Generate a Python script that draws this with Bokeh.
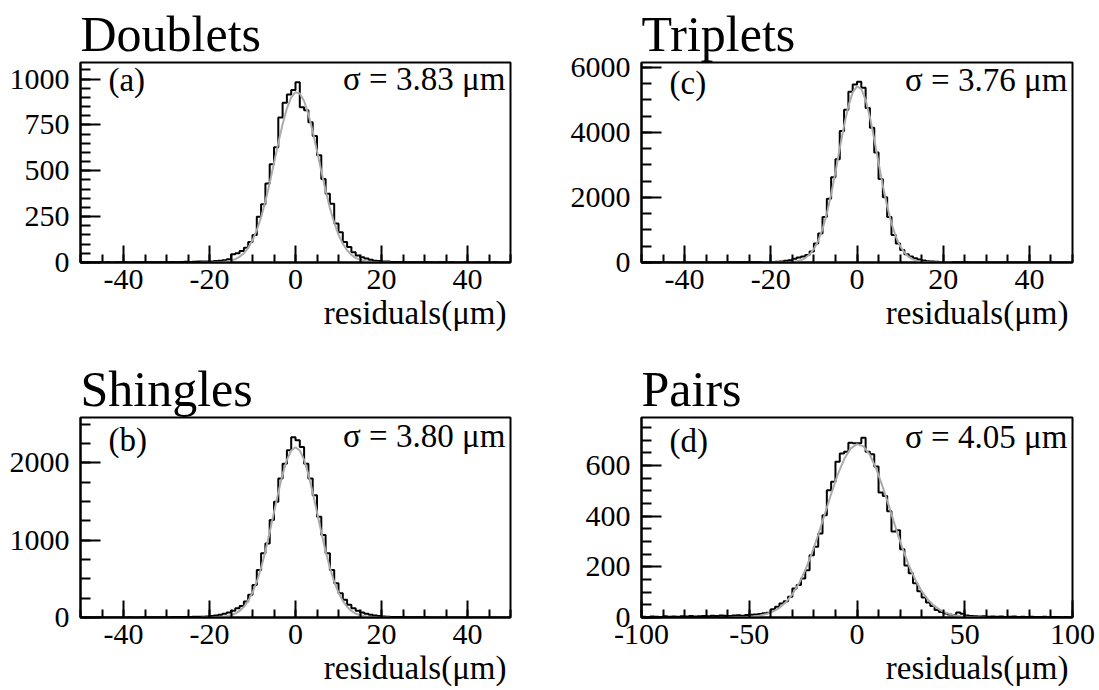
import numpy as np
from bokeh.plotting import figure
from bokeh.layouts import column, row
from bokeh.models import FixedTicker, Label, Title, Range1d
from bokeh.embed import file_html
from bokeh.resources import INLINE

FONT = "Liberation Serif"

# ---------------- data ----------------
titles = ["Doublets", "Triplets", "Shingles", "Pairs"]
tags = ["(a)", "(c)", "(b)", "(d)"]
sigma_texts = ["σ = 3.83 μm", "σ = 3.76 μm", "σ = 3.80 μm", "σ = 4.05 μm"]
x_label = "residuals(μm)"

range_abc = (-50, 50)
range_d = (-100, 100)
n_bins = 100

doublets_counts = [
    0, 1, 0, 0, 1, 0, 1, 0, 1, 1,
    1, 0, 1, 2, 1, 1, 2, 1, 2, 2,
    2, 3, 2, 3, 4, 3, 4, 5, 5, 6,
    6, 8, 10, 12, 18, 45, 50, 62, 80, 112,
    150, 250, 318, 430, 535, 628, 790, 870, 915, 940,
    982, 846, 830, 765, 690, 585, 455, 375, 320, 212,
    165, 112, 84, 56, 38, 28, 22, 15, 10, 8,
    6, 5, 3, 3, 2, 2, 2, 1, 2, 1,
    1, 1, 0, 1, 1, 0, 1, 0, 0, 1,
    0, 0, 1, 0, 0, 0, 1, 0, 0, 0,
]
triplets_counts = [
    0, 0, 1, 0, 0, 1, 0, 0, 1, 0,
    1, 1, 0, 1, 2, 1, 2, 2, 3, 3,
    4, 4, 5, 6, 7, 8, 9, 10, 11, 13,
    15, 20, 30, 50, 70, 112, 152, 183, 234, 335,
    588, 893, 1400, 1960, 2620, 3177, 4040, 4700, 5250, 5470,
    5556, 5370, 4752, 4143, 3381, 2568, 2010, 1400, 843, 588,
    386, 254, 183, 132, 91, 60, 40, 30, 22, 16,
    12, 9, 7, 6, 5, 4, 3, 3, 2, 2,
    2, 1, 1, 1, 1, 1, 0, 1, 0, 0,
    0, 1, 0, 0, 0, 0, 1, 0, 0, 0,
]
shingles_counts = [
    0, 1, 0, 1, 0, 1, 1, 0, 1, 1,
    1, 2, 1, 1, 2, 2, 3, 2, 3, 4,
    4, 5, 5, 6, 7, 8, 9, 10, 11, 12,
    18, 26, 35, 48, 64, 86, 120, 150, 206, 293,
    421, 615, 829, 957, 1259, 1495, 1795, 1988, 2161, 2330,
    2290, 2204, 1988, 1795, 1581, 1302, 1066, 829, 615, 442,
    313, 228, 164, 120, 86, 64, 48, 35, 25, 18,
    12, 9, 7, 6, 5, 4, 3, 3, 2, 2,
    2, 1, 1, 1, 1, 1, 0, 1, 0, 0,
    1, 0, 0, 0, 0, 1, 0, 0, 0, 0,
]
pairs_counts = [
    3, 2, 4, 3, 2, 5, 3, 4, 3, 5,
    4, 6, 4, 5, 6, 5, 7, 6, 8, 7,
    6, 8, 9, 7, 10, 11, 12, 14, 17, 19,
    33, 42, 55, 64, 82, 115, 128, 154, 187, 246,
    279, 332, 404, 503, 536, 615, 648, 655, 690, 688,
    688, 710, 655, 645, 596, 494, 480, 420, 340, 345,
    270, 205, 175, 135, 104, 79, 59, 45, 30, 22,
    16, 12, 10, 20, 15, 8, 6, 5, 4, 5,
    3, 4, 3, 4, 2, 3, 4, 2, 3, 2,
    3, 2, 2, 3, 1, 2, 2, 1, 2, 1,
]

# gaussian fit curves, read at sample positions
fit_x_abc = list(range(-22, 23))
doublets_fit = [0.1, 0.2, 0.3, 0.7, 1.5, 2.9, 5.6, 10.3, 18.2, 31, 50.7, 79.8, 121, 176, 247,
                334, 433, 542, 652, 754, 840, 900, 928, 921, 880, 808, 715, 608, 498, 392,
                297, 217, 152, 103, 66.9, 41.8, 25.2, 14.6, 8.1, 4.4, 2.2, 1.1, 0.5, 0.25, 0.1]
triplets_fit = [0.03, 0.08, 0.2, 0.6, 1.5, 3.6, 8.3, 18, 37, 73, 137, 245, 415, 671, 1031,
                1507, 2099, 2780, 3506, 4209, 4810, 5231, 5415, 5335, 5003, 4466, 3795, 3069,
                2362, 1731, 1207, 801, 506, 304, 174, 95, 49, 24, 11.4, 5.1, 2.2, 0.9, 0.3,
                0.1, 0.03]
shingles_fit = [0.2, 0.5, 1.0, 2.1, 4.3, 8.5, 16, 29, 51, 85, 138, 215, 322, 463, 643, 857,
                1101, 1360, 1617, 1850, 2037, 2158, 2200, 2158, 2037, 1850, 1617, 1360, 1101,
                857, 643, 463, 322, 215, 138, 85, 51, 29, 16, 8.5, 4.3, 2.1, 1.0, 0.5, 0.2]
fit_x_d = list(range(-60, 61, 3))
pairs_fit = [0.25, 0.5, 1.1, 2.2, 4.2, 7.8, 13.7, 23.4, 38.3, 60.3, 91.5, 133, 187, 252, 327,
             407, 488, 563.5, 625, 667, 685, 676, 642, 586, 514, 435, 353, 276, 207, 150, 104,
             69.6, 44.8, 27.7, 16.5, 9.4, 5.2, 2.7, 1.4, 0.7, 0.3]

y_max = [1090, 6150, 2585, 790]
y_major = [[0, 250, 500, 750, 1000], [0, 2000, 4000, 6000], [0, 1000, 2000], [0, 200, 400, 600]]
y_minor_step = [50, 500, 250, 50]
x_major_abc = [-40, -20, 0, 20, 40]
x_major_d = [-100, -50, 0, 50, 100]
x_minor_step_abc = 5
x_minor_step_d = 10


def make_panel(i, counts, fit_x, fit_y, xr, x_major, x_minor_step, frame_w,
               border_left, border_right, border_top, border_bottom,
               tag_frac_y, sig_frac_y):
    lo, hi = xr
    ymax = y_max[i]
    p = figure(frame_width=frame_w, frame_height=200,
               x_range=Range1d(lo, hi), y_range=Range1d(0, ymax),
               output_backend="svg", toolbar_location=None,
               min_border_left=border_left, min_border_right=border_right,
               min_border_top=border_top, min_border_bottom=border_bottom,
               background_fill_color="white", border_fill_color="white")
    p.grid.visible = False
    p.outline_line_color = "black"
    p.outline_line_width = 2
    p.outline_line_alpha = 1.0

    p.title.text = titles[i]
    p.title.text_font = FONT
    p.title.text_font_size = "50px"
    p.title.text_font_style = "normal"
    p.title.text_color = "black"
    p.title.align = "left"
    p.title.standoff = 2

    edges = np.linspace(lo, hi, n_bins + 1)
    ys = list(counts) + [counts[-1]]
    p.step(edges, ys, mode="after", line_color="black", line_width=2)
    p.line(fit_x, fit_y, line_color="#ababab", line_width=2)

    xt = FixedTicker(ticks=x_major, minor_ticks=list(range(lo, hi + 1, x_minor_step)))
    yt = FixedTicker(ticks=y_major[i], minor_ticks=list(range(0, int(ymax) + 1, y_minor_step[i])))
    p.xaxis.ticker = xt
    p.yaxis.ticker = yt
    p.xaxis.major_label_overrides = {t: str(t) for t in x_major}
    for ax, mj, mn in ((p.xaxis[0], 17, 8), (p.yaxis[0], 20, 10)):
        ax.major_tick_in = mj
        ax.major_tick_out = 0
        ax.minor_tick_in = mn
        ax.minor_tick_out = 0
        ax.major_tick_line_width = 2
        ax.minor_tick_line_width = 2
        ax.major_tick_line_color = "black"
        ax.minor_tick_line_color = "black"
        ax.axis_line_width = 2
        ax.axis_line_color = "black"
        ax.major_label_text_font = FONT
        ax.major_label_text_font_size = "30px"
        ax.major_label_text_color = "black"
    p.xaxis.major_label_standoff = 7
    p.yaxis.major_label_standoff = 11

    p.add_layout(Title(text=x_label, align="right", text_font=FONT, text_font_size="33px",
                       text_font_style="normal", text_color="black", standoff=2, offset=4),
                 "below")

    span = hi - lo
    p.add_layout(Label(x=lo + 0.065 * span, y=tag_frac_y * ymax, text=tags[i],
                       text_font=FONT, text_font_size="33px", text_color="black",
                       text_baseline="middle", text_align="left"))
    p.add_layout(Label(x=hi - 0.012 * span, y=sig_frac_y * ymax, text=sigma_texts[i],
                       text_font=FONT, text_font_size="33px", text_color="black",
                       text_baseline="middle", text_align="right"))
    return p


pa = make_panel(0, doublets_counts, fit_x_abc, doublets_fit, range_abc, x_major_abc,
                x_minor_step_abc, 430, 80, 50, 62, 88, 0.915, 0.92)
pc = make_panel(1, triplets_counts, fit_x_abc, triplets_fit, range_abc, x_major_abc,
                x_minor_step_abc, 431, 81, 27, 61, 89, 0.90, 0.915)
pb = make_panel(2, shingles_counts, fit_x_abc, shingles_fit, range_abc, x_major_abc,
                x_minor_step_abc, 430, 80, 50, 67, 73, 0.89, 0.91)
pd = make_panel(3, pairs_counts, fit_x_d, pairs_fit, range_d, x_major_d,
                x_minor_step_d, 431, 81, 27, 66, 74, 0.885, 0.905)

layout = column(row(pa, pc), row(pb, pd))
open("out.html", "w").write(file_html(layout, INLINE))
